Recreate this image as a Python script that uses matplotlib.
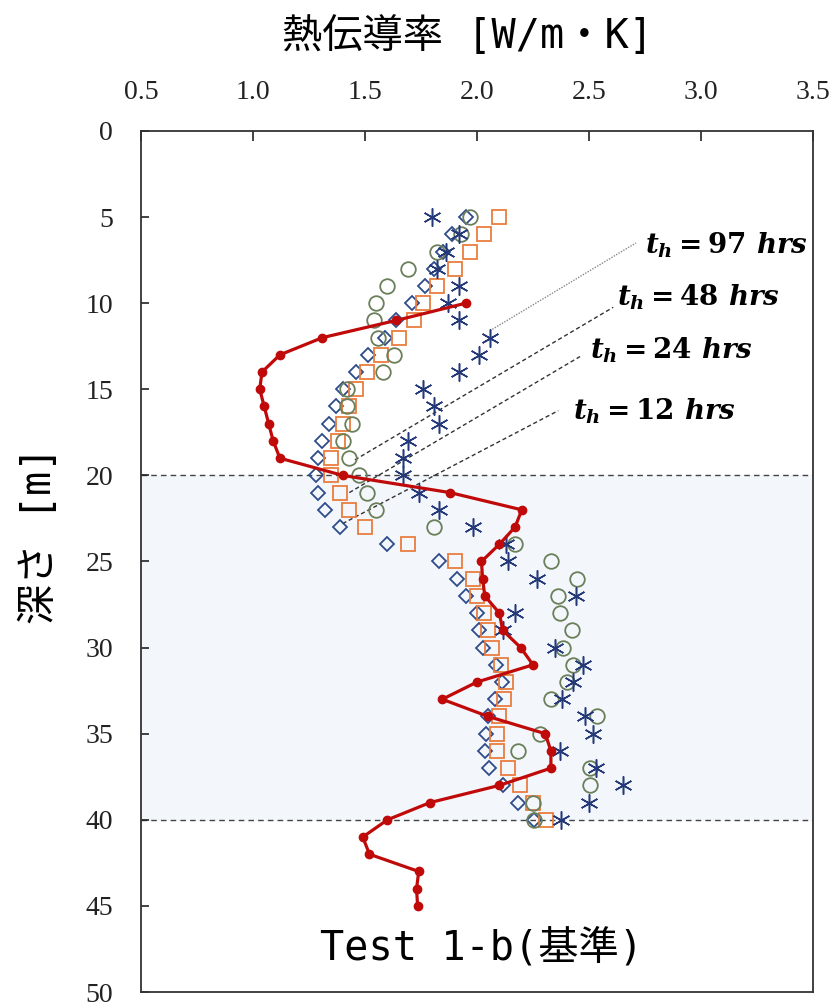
import matplotlib.pyplot as plt

plt.rcParams['font.family'] = ['Liberation Serif', 'DejaVu Serif']
plt.rcParams['mathtext.fontset'] = 'custom'
plt.rcParams['mathtext.it'] = 'DejaVu Serif:italic:bold'
plt.rcParams['mathtext.rm'] = 'DejaVu Serif:bold'

# depths of the scatter points [m]
depth = list(range(5, 41))

diamond = [1.95, 1.89, 1.85, 1.81, 1.77, 1.71, 1.64, 1.59, 1.515, 1.46,
           1.40, 1.37, 1.34, 1.31, 1.29, 1.28, 1.29, 1.32, 1.39, 1.60,
           1.83, 1.91, 1.95, 2.00, 2.01, 2.025, 2.085, 2.11, 2.08, 2.05,
           2.04, 2.035, 2.055, 2.115, 2.185, 2.255]
square = [2.10, 2.03, 1.97, 1.90, 1.82, 1.76, 1.72, 1.65, 1.57, 1.51,
          1.46, 1.43, 1.40, 1.38, 1.35, 1.35, 1.39, 1.43, 1.50, 1.69,
          1.90, 1.98, 2.00, 2.03, 2.05, 2.065, 2.105, 2.13, 2.12, 2.10,
          2.09, 2.09, 2.14, 2.19, 2.25, 2.31]
circle = [1.97, 1.93, 1.82, 1.69, 1.60, 1.55, 1.54, 1.56, 1.63, 1.58,
          1.42, 1.42, 1.44, 1.40, 1.43, 1.475, 1.51, 1.55, 1.81, 2.17,
          2.33, 2.445, 2.36, 2.37, 2.425, 2.385, 2.43, 2.40, 2.33, 2.535,
          2.28, 2.185, 2.505, 2.505, 2.25, 2.255]
star = [1.80, 1.92, 1.86, 1.82, 1.92, 1.87, 1.92, 2.06, 2.01, 1.92,
        1.76, 1.81, 1.83, 1.69, 1.67, 1.67, 1.74, 1.83, 1.98, 2.13,
        2.14, 2.27, 2.44, 2.17, 2.115, 2.35, 2.475, 2.43, 2.38, 2.48,
        2.52, 2.37, 2.53, 2.65, 2.50, 2.375]

# measured profile (red line)
meas_depth = list(range(10, 46))
meas = [1.95, 1.64, 1.31, 1.12, 1.04, 1.03, 1.05, 1.07, 1.09, 1.12,
        1.40, 1.88, 2.20, 2.17, 2.10, 2.02, 2.025, 2.035, 2.10, 2.115,
        2.195, 2.25, 2.00, 1.845, 2.05, 2.305, 2.33, 2.33, 2.10, 1.79,
        1.60, 1.49, 1.52, 1.74, 1.73, 1.735]

xticks = [0.5, 1.0, 1.5, 2.0, 2.5, 3.0, 3.5]
yticks = [0, 5, 10, 15, 20, 25, 30, 35, 40, 45, 50]
layer = (20, 40)

fig = plt.figure(figsize=(8.31, 10.05), dpi=100)
ax = fig.add_axes([0.1697, 0.0129, 0.8086, 0.8568])

ax.axhspan(layer[0], layer[1], color='#f3f7fb', zorder=0)
for d in layer:
    ax.axhline(d, color='#444444', lw=1.0, ls=(0, (4, 3)), zorder=1)

ax.plot(diamond, depth, ls='none', marker='D', ms=7.5, mfc='none',
        mec='#2e4c8c', mew=1.3, zorder=3)
ax.plot(square, depth, ls='none', marker='s', ms=10, mfc='none',
        mec='#e87d3e', mew=1.3, zorder=3)
ax.plot(circle, depth, ls='none', marker='o', ms=10.5, mfc='none',
        mec='#6a7f5a', mew=1.3, zorder=3)
ax.plot(star, depth, ls='none', marker=(6, 2, 0), ms=13,
        mec='#24397a', mew=1.1, zorder=3)
ax.plot(meas, meas_depth, color='#c00a0a', lw=2.3, marker='o', ms=6,
        zorder=4)

# annotation lines for heating time
notes = [
    ('97', (2.058, 11.6), (2.71, 6.5), (2.75, 6.62), ':', '#888888'),
    ('48', (1.455, 19.1), (2.608, 10.24), (2.625, 9.64), '--', '#333333'),
    ('24', (1.43, 21.0), (2.46, 13.1), (2.504, 12.72), '--', '#333333'),
    ('12', (1.40, 22.8), (2.363, 16.24), (2.427, 16.3), '--', '#333333'),
]
for hrs, p0, p1, tp, ls, col in notes:
    ax.plot([p0[0], p1[0]], [p0[1], p1[1]], ls=ls, color=col, lw=1.0,
            dashes=(3, 2) if ls == '--' else (1, 1), zorder=2)
    ax.text(tp[0], tp[1], r'$t_h = %s\ hrs$' % hrs, fontsize=20,
            ha='left', va='center', zorder=5)

ax.set_xlim(0.5, 3.5)
ax.set_ylim(50, 0)
ax.set_xticks(xticks)
ax.set_xticklabels(['%.1f' % v for v in xticks])
ax.set_yticks(yticks)
ax.xaxis.tick_top()
ax.tick_params(axis='x', direction='in', length=7, width=1.2, pad=19,
               labelsize=20, colors='#222222')
ax.tick_params(axis='y', direction='in', length=6, width=1.2, pad=20,
               labelsize=20, colors='#222222')
for s in ax.spines.values():
    s.set_linewidth(1.3)
    s.set_color('#333333')

jp = ['DejaVu Sans Mono', 'Noto Sans CJK JP']
fig.text(0.562, 0.963, '熱伝導率 [W/m・K]', family=jp, fontsize=29,
         ha='center', va='center')
fig.text(0.048, 0.467, '深さ [m]', family=jp, fontsize=29, rotation=90,
         ha='center', va='center')
ax.text(0.506, 0.051, 'Test 1-b(基準)', family=jp, fontsize=29,
        ha='center', va='center', transform=ax.transAxes)

fig.savefig('out.png', dpi=100)
